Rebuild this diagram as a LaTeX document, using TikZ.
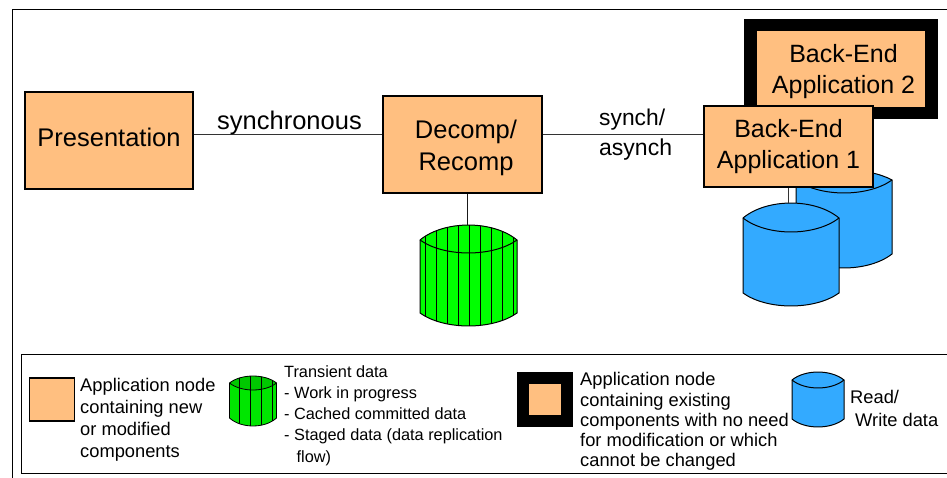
\documentclass[tikz,border=0pt]{standalone}
\usepackage{fontspec}
\setmainfont{Liberation Sans}
\definecolor{nodeorange}{HTML}{FFBF80}
\definecolor{datablue}{HTML}{33AAFF}
\definecolor{transgreen}{HTML}{00FF00}
\definecolor{legendgreen}{HTML}{00E600}
\definecolor{legendtop}{HTML}{00C800}
% name, left, right, top, rim, inner, sidebottom, lowest, then fill, stripes, topfill
\newcommand{\cylinder}[8]{%
  \def\cylxl{#2}\def\cylxr{#3}\def\cylyt{#4}\def\cylyr{#5}\def\cylyi{#6}\def\cylys{#7}\def\cylyb{#8}%
  \cylinderrest{#1}}
\newcommand{\cylinderrest}[4]{%
  \pgfmathsetmacro\cylcl{\cylxl+0.25*(\cylxr-\cylxl)}%
  \pgfmathsetmacro\cylcr{\cylxr-0.25*(\cylxr-\cylxl)}%
  \pgfmathsetmacro\cylxm{0.5*(\cylxl+\cylxr)}%
  \pgfmathsetmacro\cylct{\cylyt-0.33*(\cylyr-\cylyt)}%
  \pgfmathsetmacro\cylci{\cylyi+0.33*(\cylyi-\cylyr)}%
  \pgfmathsetmacro\cylcb{\cylyb+0.33*(\cylyb-\cylys)}%
  \coordinate (#1) at (\cylxm,\cylyt);
  \path[fill=#2] (\cylxl,\cylyr) .. controls (\cylcl,\cylct) and (\cylcr,\cylct) .. (\cylxr,\cylyr) -- (\cylxr,\cylys)
     .. controls (\cylcr,\cylcb) and (\cylcl,\cylcb) .. (\cylxl,\cylys) -- cycle;
  \path[fill=#4] (\cylxl,\cylyr) .. controls (\cylcl,\cylct) and (\cylcr,\cylct) .. (\cylxr,\cylyr)
     .. controls (\cylcr,\cylci) and (\cylcl,\cylci) .. (\cylxl,\cylyr) -- cycle;
  \def\cylstripes{#3}%
  \ifx\cylstripes\empty\else
  \begin{scope}
    \clip (\cylxl,\cylyr) .. controls (\cylcl,\cylct) and (\cylcr,\cylct) .. (\cylxr,\cylyr) -- (\cylxr,\cylys)
     .. controls (\cylcr,\cylcb) and (\cylcl,\cylcb) .. (\cylxl,\cylys) -- cycle;
    \foreach \sx in {#3} {\draw[cylline] (\sx,\cylyt-5) -- (\sx,\cylyb+5);}
  \end{scope}
  \fi
  \draw[cylline] (\cylxl,\cylyr) .. controls (\cylcl,\cylct) and (\cylcr,\cylct) .. (\cylxr,\cylyr) -- (\cylxr,\cylys)
     .. controls (\cylcr,\cylcb) and (\cylcl,\cylcb) .. (\cylxl,\cylys) -- cycle;
  \draw[cylline] (\cylxl,\cylyr) .. controls (\cylcl,\cylci) and (\cylcr,\cylci) .. (\cylxr,\cylyr);
}
\tikzset{
  cylline/.style={draw=black,line width=1pt},
  appbox/.style={draw=black,line width=1.3pt,fill=nodeorange,inner sep=0pt,align=center,text=black},
  blackbox/.style={fill=black,inner sep=0pt},
  innerbox/.style={fill=nodeorange,inner sep=0pt,align=center},
  link/.style={draw=black!80,line width=1pt},
  downlink/.style={draw=black!90,line width=1.3pt},
  legendtxt/.style={anchor=north west,inner sep=0pt,align=left,font=\fontsize{18.3}{#1}\selectfont},
  smalltxt/.style={anchor=north west,inner sep=0pt,align=left,font=\fontsize{16.3}{21.3}\selectfont},
  frameline/.style={draw=black,line width=1pt},
  linklabel/.style={inner sep=0pt,anchor=base west}
}
\begin{document}
\begin{tikzpicture}[x=1pt,y=-1pt]
\useasboundingbox (0,0) rectangle (947,478);
\fill[white] (0,0) rectangle (947,478);
\draw[frameline] (947,9.5) -- (12.5,9.5) -- (12.5,478);

% top row
\node[appbox,minimum width=168pt,minimum height=97pt,font=\fontsize{25.5}{30}\selectfont] (pres) at (109,140.5) {\rule[-6pt]{0pt}{18pt}Presentation};
\node[appbox,minimum width=159pt,minimum height=97pt,font=\fontsize{25.5}{32}\selectfont] (decomp) at (462.5,144.5) {\rule{0pt}{26pt}\hspace*{7pt}Decomp/\\\hspace*{7pt}Recomp};

% back-end application 2
\node[blackbox,minimum width=194pt,minimum height=100pt] (be2frame) at (841,69) {};
\node[innerbox,minimum width=168pt,minimum height=76pt,font=\fontsize{25}{31}\selectfont] (be2) at (841,69) {\rule{0pt}{24pt}\hspace*{5pt}Back-End\\\hspace*{5pt}Application 2};

% read/write data
\cylinder{cylback}{796}{892}{170}{180}{193}{254}{268}{datablue}{}{datablue}
\cylinder{cylfront}{743}{839}{203}{218}{232}{293}{306}{datablue}{}{datablue}

% back-end application 1
\node[appbox,minimum width=169pt,minimum height=81pt,font=\fontsize{25}{31}\selectfont] (be1) at (788.5,146.5) {Back-End\\Application 1};
\draw[link] (be1.south) -- (be1.south |- cylfront);

% transient data
\cylinder{cylgreen}{420}{517}{225}{240}{253}{313}{326}{transgreen}{425.7,436.7,447.7,458.7,469.7,480.7,491.7,502.7,513.7}{transgreen}
\coordinate (dl) at (467.5,0);
\draw[downlink] (dl |- decomp.south) -- (dl |- cylgreen);

% connectors
\coordinate (pe) at (0,134.5);
\draw[link] (pres.east |- pe) -- (decomp.west |- pe);
\draw[link] (decomp.east |- pe) -- (be1.west |- pe);
\node[linklabel,font=\fontsize{25.5}{30}\selectfont] (lsync) at (217,130) {synchronous};
\node[linklabel,font=\fontsize{22.8}{30}\selectfont] (lsynch) at (599,126) {synch/};
\node[linklabel,font=\fontsize{23}{30}\selectfont] (lasynch) at (599,156) {asynch};

% legend
\draw[frameline] (947,354.5) -- (21,354.5) -- (21,473) -- (947,473);
\node[appbox,minimum width=45pt,minimum height=43pt] (l1) at (51.7,399.5) {};
\node[legendtxt=22] (l1t) at (80,378) {Application node\\containing new\\or modified\\components};
\begin{scope}[cylline/.append style={line width=.8pt}]
\cylinder{cyllegend}{229.5}{276.5}{376}{383}{390}{418}{426}{legendgreen}{239,250,261,272}{legendtop}
\end{scope}
\node[smalltxt] (l2t) at (284,365) {Transient data\\- Work in progress\\- Cached committed data\\- Staged data (data replication\\\hspace*{12.5pt}flow)};
\node[blackbox,minimum width=56pt,minimum height=55pt] (l3f) at (545,399.5) {};
\node[innerbox,minimum width=32pt,minimum height=31pt] (l3) at (545,399.5) {};
\node[legendtxt=20.2] (l3t) at (580,372.5) {Application node\\containing existing\\components with no need\\for modification or which\\cannot be changed};
\cylinder{cyllegendb}{792}{844}{372}{380}{388}{419}{427}{datablue}{}{datablue}
\node[anchor=north west,inner sep=0pt,align=left,font=\fontsize{18.3}{23}\selectfont] (l4t) at (850,390.5) {Read/\\\hspace*{5pt}Write data};
\end{tikzpicture}
\end{document}
